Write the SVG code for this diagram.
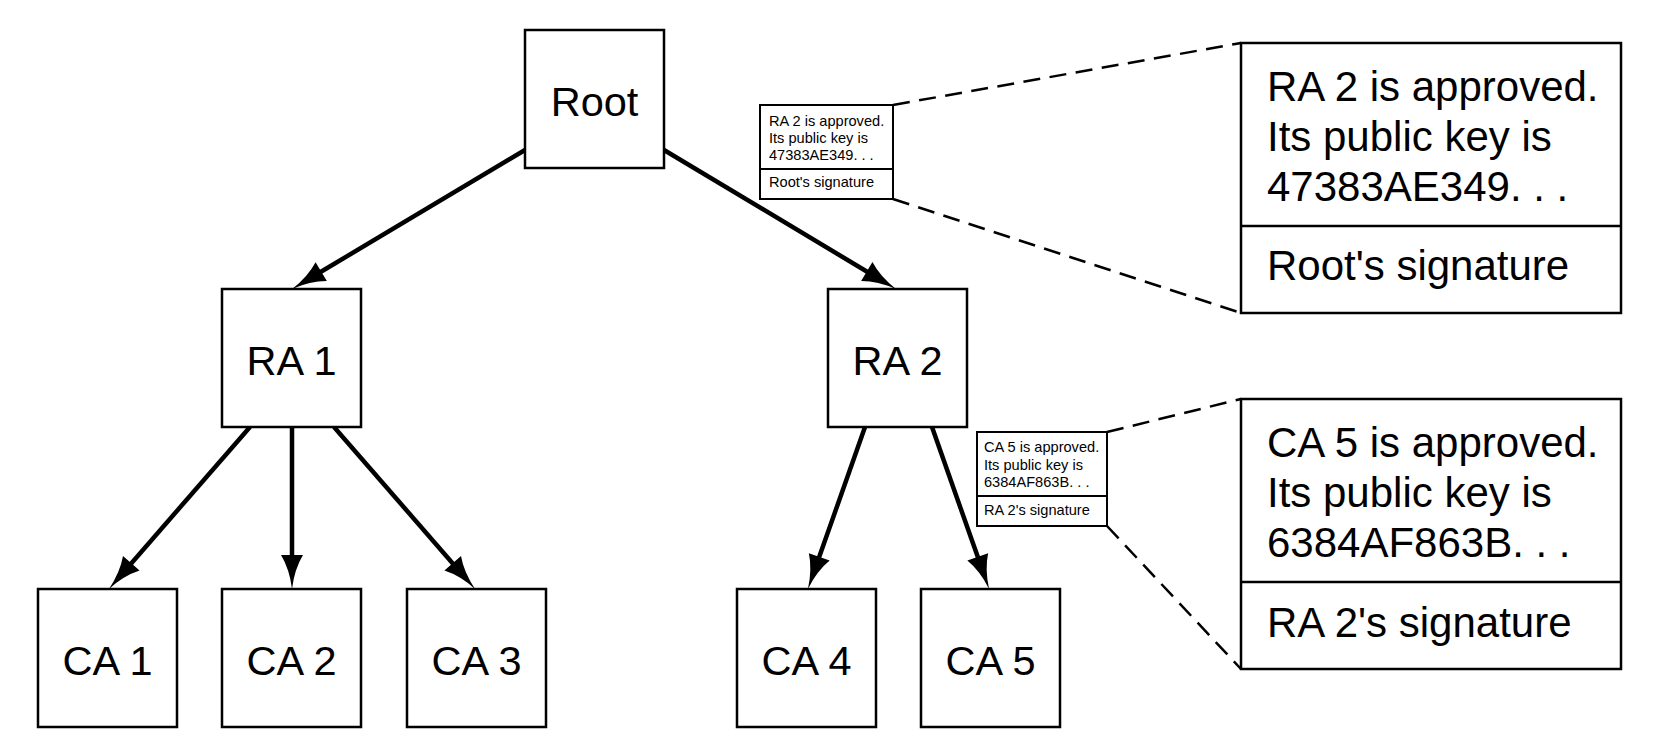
<svg xmlns="http://www.w3.org/2000/svg" width="1654" height="752" viewBox="0 0 1654 752">
<style>
.box{fill:#fff;stroke:#000;stroke-width:2.5}
.sbox{fill:#fff;stroke:#000;stroke-width:2}
.lbl{font-family:"Liberation Sans",Arial,sans-serif;font-size:41.5px;fill:#000;text-anchor:middle}
.big{font-family:"Liberation Sans",Arial,sans-serif;font-size:42px;fill:#000}
.small{font-family:"Liberation Sans",Arial,sans-serif;font-size:14.6px;fill:#000}
.edge{stroke:#000;stroke-width:4.5;fill:none;marker-end:url(#ah)}
.dash{stroke:#000;stroke-width:2.5;fill:none;stroke-dasharray:17 9.5}
</style>
<defs>
<marker id="ah" markerUnits="userSpaceOnUse" markerWidth="60" markerHeight="60" refX="0" refY="0" orient="auto" overflow="visible" viewBox="-30 -30 60 60">
<path d="M20,0 Q0,-2.5 -14,-11 L-14,11 Q0,2.5 20,0 Z" fill="#000"/>
</marker>
</defs>
<rect width="1654" height="752" fill="#fff"/>
<g id="connectors">
<line class="edge" x1="525" y1="150" x2="309.2" y2="278.8"/>
<line class="edge" x1="664" y1="150" x2="878.8" y2="278.7"/>
<line class="edge" x1="250" y1="427" x2="122.1" y2="573.9"/>
<line class="edge" x1="292" y1="427" x2="292" y2="569"/>
<line class="edge" x1="334" y1="427" x2="461.9" y2="573.9"/>
<line class="edge" x1="865" y1="427" x2="814.6" y2="570.1"/>
<line class="edge" x1="932" y1="427" x2="982.4" y2="570.1"/>
<line class="dash" x1="893" y1="105" x2="1241" y2="43"/>
<line class="dash" x1="893" y1="199" x2="1241" y2="313"/>
<line class="dash" x1="1107" y1="432" x2="1241" y2="399"/>
<line class="dash" x1="1107" y1="526" x2="1241" y2="669"/>
</g>
<g id="root"><rect class="box" x="525" y="30" width="139" height="138"/><text class="lbl" x="594.5" y="116">Root</text></g>
<g id="ra1"><rect class="box" x="222" y="289" width="139" height="138"/><text class="lbl" x="291.5" y="375">RA 1</text></g>
<g id="ra2"><rect class="box" x="828" y="289" width="139" height="138"/><text class="lbl" x="897.5" y="375">RA 2</text></g>
<g id="ca1"><rect class="box" x="38" y="589" width="139" height="138"/><text class="lbl" x="107.5" y="675">CA 1</text></g>
<g id="ca2"><rect class="box" x="222" y="589" width="139" height="138"/><text class="lbl" x="291.5" y="675">CA 2</text></g>
<g id="ca3"><rect class="box" x="407" y="589" width="139" height="138"/><text class="lbl" x="476.5" y="675">CA 3</text></g>
<g id="ca4"><rect class="box" x="737" y="589" width="139" height="138"/><text class="lbl" x="806.5" y="675">CA 4</text></g>
<g id="ca5"><rect class="box" x="921" y="589" width="139" height="138"/><text class="lbl" x="990.5" y="675">CA 5</text></g>
<g id="cert-ra2-small">
<rect class="sbox" x="760" y="105" width="133" height="94"/>
<line x1="760" y1="169" x2="893" y2="169" stroke="#000" stroke-width="2"/>
<text class="small" x="769" y="126">RA 2 is approved.</text>
<text class="small" x="769" y="143">Its public key is</text>
<text class="small" x="769" y="160">47383AE349. . .</text>
<text class="small" x="769" y="187">Root's signature</text>
</g>
<g id="cert-ca5-small">
<rect class="sbox" x="977" y="432" width="130" height="94"/>
<line x1="977" y1="496" x2="1107" y2="496" stroke="#000" stroke-width="2"/>
<text class="small" x="984" y="452">CA 5 is approved.</text>
<text class="small" x="984" y="470">Its public key is</text>
<text class="small" x="984" y="487">6384AF863B. . .</text>
<text class="small" x="984" y="515">RA 2's signature</text>
</g>
<g id="cert-ra2-large">
<rect class="box" x="1241" y="43" width="380" height="270"/>
<line x1="1241" y1="226" x2="1621" y2="226" stroke="#000" stroke-width="2.5"/>
<text class="big" x="1267" y="101">RA 2 is approved.</text>
<text class="big" x="1267" y="151">Its public key is</text>
<text class="big" x="1267" y="201">47383AE349. . .</text>
<text class="big" x="1267" y="280">Root's signature</text>
</g>
<g id="cert-ca5-large">
<rect class="box" x="1241" y="399" width="380" height="270"/>
<line x1="1241" y1="582" x2="1621" y2="582" stroke="#000" stroke-width="2.5"/>
<text class="big" x="1267" y="457">CA 5 is approved.</text>
<text class="big" x="1267" y="507">Its public key is</text>
<text class="big" x="1267" y="557">6384AF863B. . .</text>
<text class="big" x="1267" y="637">RA 2's signature</text>
</g>
</svg>
